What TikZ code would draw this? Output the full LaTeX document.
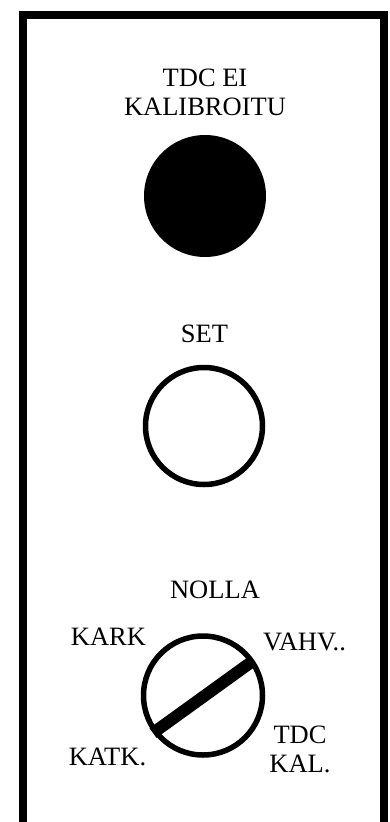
\documentclass[tikz,border=0pt]{standalone}
\usepackage{fontspec}
\setmainfont{Liberation Serif}
\begin{document}
\begin{tikzpicture}[x=1pt,y=-1pt,
  lbl/.style={inner sep=0pt,anchor=base,font=\fontsize{26.5}{29}\selectfont,align=center},
  ring/.style={draw=black,line width=5.5pt,fill=white}]
\useasboundingbox (0,0) rectangle (390,822);
\fill[white] (0,0) rectangle (390,822);
\begin{scope}
\clip (0,0) rectangle (390,822);
\draw[line width=8pt] (23,840) -- (23,15) -- (384,15) -- (384,840);
\end{scope}
\node[lbl] (t1) at (205,115) {TDC EI\\KALIBROITU};
\node[circle,fill=black,minimum size=122pt,inner sep=0pt] (lamp) at (205,196) {};
\node[lbl] (set) at (204.5,342) {SET};
\node[circle,ring,minimum size=117pt,inner sep=0pt] (btn) at (204,426) {};
\node[lbl] (nolla) at (215,598) {NOLLA};
\node[circle,ring,minimum size=119pt,inner sep=0pt] (dial) at (203,695.5) {};
\coordinate (b1) at (153,733);
\coordinate (b2) at (250,663);
\draw[line width=12pt] (b1) -- (b2);
\node[lbl] (kark) at (108.5,645) {KARK};
\node[lbl] (vahv) at (304.5,650) {VAHV..};
\node[lbl] (katk) at (107.5,765) {KATK.};
\node[lbl] (tdck) at (300,772) {TDC\\KAL.};
\end{tikzpicture}
\end{document}
